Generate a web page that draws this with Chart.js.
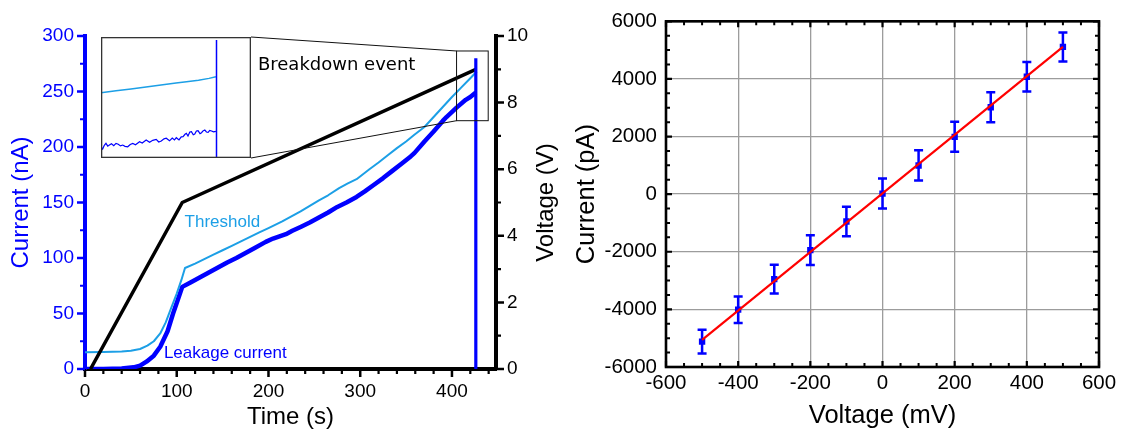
<!DOCTYPE html>
<html>
<head>
<meta charset="utf-8">
<script src="https://cdn.jsdelivr.net/npm/chart.js@4.4.0/dist/chart.umd.min.js"></script>
<style>
  body { margin: 0; background: #fff; }
  #wrap { position: relative; width: 1122px; height: 429px; }
  canvas { position: absolute; }
</style>
</head>
<body>
<div id="wrap">
  <canvas id="left" width="560" height="429" style="left:0;top:0"></canvas>
  <canvas id="inset" width="150" height="121" style="left:101px;top:37px"></canvas>
  <canvas id="right" width="562" height="429" style="left:560px;top:0"></canvas>
</div>
<script>
"use strict";

/* ---- left panel: breakdown ramp ---- */
const voltTime  = [6, 106, 426];
const voltValue = [0, 5, 9];

const threshTime    = [0, 20, 40, 50, 60, 68, 75, 82, 88, 94, 100, 105, 109, 120, 130, 140, 150, 160, 170, 180, 190, 200, 215, 225, 235, 245, 255, 265, 277, 286, 296, 310, 320, 330, 340, 350, 359, 370, 380, 390, 400, 410, 420, 427];
const threshCurrent = [15, 15.3, 15.8, 16.5, 18, 21, 25, 32, 42, 55, 68, 80, 91, 95, 99, 103, 107, 111, 115, 119, 123, 127, 133, 137.5, 142, 147, 152, 156.5, 163, 167, 171, 180, 186, 192.5, 199, 205, 211, 218, 227, 236, 245, 253.5, 262, 268];

const leakTime    = [0, 20, 40, 53, 60, 67, 75, 82, 90, 96, 101, 106, 115, 125, 135, 145, 155, 165, 175, 185, 197, 205, 212, 219, 226, 235, 245, 255, 265, 275, 285, 296, 305, 315, 325, 335, 345, 355, 359, 370, 380, 390, 394, 405, 415, 420, 426];
const leakCurrent = [0, 0, 0.4, 1.5, 3, 6.6, 12, 20, 34, 50, 62, 74, 78, 82.5, 87, 91.5, 96, 100, 104.5, 109, 114.5, 117.5, 119.5, 121.5, 124.5, 128, 132, 136.5, 141, 146, 150, 155, 160, 166, 172, 178.5, 185, 191.5, 194.5, 205, 214, 223.5, 227, 235.5, 242.5, 245, 249];

const spikeTime    = [426, 426];
const spikeCurrent = [0, 280];

const zoomTime    = [405, 439.5];
const zoomCurrent = [223.7, 286.5];

const timeTicks         = [0, 100, 200, 300, 400];
const timeTicksMinor    = [20, 40, 60, 80, 120, 140, 160, 180, 220, 240, 260, 280, 320, 340, 360, 380, 420, 440];
const currentTicks      = [0, 50, 100, 150, 200, 250, 300];
const currentTicksMinor = [25, 75, 125, 175, 225, 275];
const voltTicks         = [0, 2, 4, 6, 8, 10];
const voltTicksMinor    = [1, 3, 5, 7, 9];

/* inset (arbitrary zoomed units, 0..100 both ways) */
const insetThreshX = [0, 10, 20, 30, 40, 50, 57, 65, 72, 76.6];
const insetThreshY = [54, 55.5, 57, 58.7, 60.3, 62, 63, 64.3, 65.8, 67.2];
const insetLeakX = [0, 1.1, 2.2, 3.3, 4.5, 5.6, 7, 8.5, 10, 11.5, 13, 14.5, 16, 17.8, 19.5, 21.2, 23, 25.7, 27.5, 30.1, 32.4, 34.5, 36.8, 38.5, 40.2, 42, 43.5, 45.7, 47.5, 49, 50.2, 52, 53.5, 54.7, 56, 56.9, 58, 59.2, 60.3, 61.5, 62.5, 63.6, 64.7, 66, 67, 68, 69.2, 70.3, 71.4, 72.5, 73.7, 75, 76.6];
const insetLeakY = [9.3, 7.4, 10.5, 12.1, 9.8, 10.7, 11.8, 10.2, 12.1, 11.4, 10, 10.7, 9.6, 9.3, 11.2, 12.1, 11, 13.5, 12.4, 14.9, 13, 14.6, 15.4, 13.2, 14, 15.8, 16.3, 14.2, 16.5, 15, 16.8, 14.9, 17.5, 17.6, 19.6, 20.4, 18.2, 21.5, 21.7, 19.2, 19.8, 22.3, 22.6, 20.1, 20.9, 22.4, 23.1, 21.5, 21.2, 22.8, 22.3, 21.6, 22];
const insetSpikeX = [77, 77];
const insetSpikeY = [0, 97.5];

/* ---- right panel: I-V sweep ---- */
const ivVoltage = [-500, -400, -300, -200, -100, 0, 100, 200, 300, 400, 500];
const ivCurrent = [-5120, -4010, -2950, -1945, -950, 20, 995, 1990, 3015, 4075, 5110];
const ivError   = [410, 460, 500, 515, 515, 520, 525, 520, 520, 515, 505];
const fitVoltage = [-500, 500];
const fitCurrent = [-5060, 5110];

const vTicksMinor = [-550, -500, -450, -350, -300, -250, -150, -100, -50, 50, 100, 150, 250, 300, 350, 450, 500, 550];
const iTicksMinor = [-5500, -5000, -4500, -3500, -3000, -2500, -1500, -1000, -500, 500, 1000, 1500, 2500, 3000, 3500, 4500, 5000, 5500];

const INSET = { left: 101, top: 37, width: 150, height: 121 };

const BLUE = "#0000ff";
const LIGHT = "#1c9fe6";
const FONT = "'Liberation Sans', Arial, sans-serif";

Chart.defaults.font.family = FONT;
Chart.defaults.color = "#000";

const pts = (xs, ys) => xs.map((x, i) => ({ x, y: ys[i] }));

function marks(ctx, scale, values, len, width, color, side) {
  const a = scale.chart.chartArea;
  ctx.save();
  ctx.strokeStyle = color;
  ctx.lineWidth = width;
  ctx.lineCap = "butt";
  ctx.beginPath();
  values.forEach(v => {
    const p = scale.getPixelForValue(v);
    if (side === "down")     { ctx.moveTo(p, a.bottom); ctx.lineTo(p, a.bottom + len); }
    if (side === "up")       { ctx.moveTo(p, a.bottom); ctx.lineTo(p, a.bottom - len); }
    if (side === "topin")    { ctx.moveTo(p, a.top);    ctx.lineTo(p, a.top + len); }
    if (side === "leftout")  { ctx.moveTo(a.left, p);   ctx.lineTo(a.left - len, p); }
    if (side === "leftin")   { ctx.moveTo(a.left, p);   ctx.lineTo(a.left + len, p); }
    if (side === "rightout") { ctx.moveTo(a.right, p);  ctx.lineTo(a.right + len, p); }
    if (side === "rightin")  { ctx.moveTo(a.right, p);  ctx.lineTo(a.right - len, p); }
  });
  ctx.stroke();
  ctx.restore();
}

const fixTicks = list => s => { s.ticks = list.map(v => ({ value: v })); };

/* left chart extras: ticks, zoom box, connectors, annotations */
const leftExtras = {
  id: "leftExtras",
  afterDatasetsDraw(chart) {
    const { ctx, scales: { x, y } } = chart;
    const bx0 = x.getPixelForValue(zoomTime[0]), bx1 = x.getPixelForValue(zoomTime[1]);
    const by0 = y.getPixelForValue(zoomCurrent[1]), by1 = y.getPixelForValue(zoomCurrent[0]);
    ctx.save();
    ctx.strokeStyle = "#111";
    ctx.lineWidth = 1;
    ctx.strokeRect(bx0, by0, bx1 - bx0, by1 - by0);
    ctx.beginPath();
    ctx.moveTo(INSET.left + INSET.width, INSET.top);
    ctx.lineTo(bx0, by0);
    ctx.moveTo(INSET.left + INSET.width, INSET.top + INSET.height);
    ctx.lineTo(bx0, by1);
    ctx.stroke();

    ctx.textBaseline = "middle";
    ctx.textAlign = "left";
    ctx.font = "18px 'DejaVu Sans', Verdana, sans-serif";
    ctx.fillStyle = "#000";
    ctx.fillText("Breakdown event", x.getPixelForValue(188.5), y.getPixelForValue(274));
    ctx.font = "17px " + FONT;
    ctx.fillStyle = LIGHT;
    ctx.fillText("Threshold", x.getPixelForValue(108.5), y.getPixelForValue(132.5));
    ctx.fillStyle = BLUE;
    ctx.fillText("Leakage current", x.getPixelForValue(86), y.getPixelForValue(14.5));
    ctx.restore();
  },
  afterDraw(chart) {
    const { ctx, chartArea: a, scales } = chart;
    marks(ctx, scales.x, timeTicks, 8, 2.5, "#000", "down");
    marks(ctx, scales.x, timeTicksMinor, 5, 2.2, "#000", "down");
    marks(ctx, scales.y, currentTicks, 8, 2.5, BLUE, "leftout");
    marks(ctx, scales.y, currentTicksMinor, 5, 2.2, BLUE, "leftout");
    marks(ctx, scales.y2, voltTicks, 8, 2.5, "#000", "rightout");
    marks(ctx, scales.y2, voltTicksMinor, 5, 2.2, "#000", "rightout");
    // right axis title reads bottom-to-top like the left one
    ctx.save();
    ctx.translate(546, (a.top + a.bottom) / 2);
    ctx.rotate(-Math.PI / 2);
    ctx.textAlign = "center";
    ctx.textBaseline = "middle";
    ctx.font = "24px " + FONT;
    ctx.fillStyle = "#000";
    ctx.fillText("Voltage (V)", 0, 0);
    ctx.restore();
  },
};

const noGrid = { display: false, drawTicks: false };

new Chart(document.getElementById("left"), {
  type: "line",
  data: {
    datasets: [
      { data: pts(spikeTime, spikeCurrent), borderColor: BLUE, borderWidth: 3.2, yAxisID: "y" },
      { data: pts(voltTime, voltValue), borderColor: "#000", borderWidth: 3.5, yAxisID: "y2" },
      { data: pts(threshTime, threshCurrent), borderColor: LIGHT, borderWidth: 2, yAxisID: "y" },
      { data: pts(leakTime, leakCurrent), borderColor: BLUE, borderWidth: 4.5, yAxisID: "y" },
    ],
  },
  options: {
    responsive: false,
    animation: false,
    parsing: false,
    layout: { padding: { top: 36, left: 0, right: 0, bottom: 0 } },
    elements: { point: { radius: 0 }, line: { tension: 0, borderCapStyle: "butt", borderJoinStyle: "round" } },
    plugins: { legend: { display: false }, tooltip: { enabled: false } },
    scales: {
      x: {
        type: "linear", min: 0, max: 448,
        ticks: { font: { size: 19 }, color: "#000", padding: 11, maxRotation: 0 },
        afterBuildTicks: fixTicks(timeTicks),
        afterFit: s => { s.height = 60; },
        grid: noGrid,
        border: { color: "#000", width: 4 },
        title: { display: true, text: "Time (s)", font: { size: 24, lineHeight: 1 }, color: "#000", padding: { top: 0, bottom: 0 } },
      },
      y: {
        position: "left", min: 0, max: 300,
        ticks: { font: { size: 19 }, color: BLUE, padding: 11 },
        afterBuildTicks: fixTicks(currentTicks),
        afterFit: s => { s.width = 85; },
        grid: noGrid,
        border: { color: BLUE, width: 4 },
        title: { display: true, text: "Current (nA)", font: { size: 24 }, color: BLUE, padding: { top: 7, bottom: 0 } },
      },
      y2: {
        position: "right", min: 0, max: 10,
        ticks: { font: { size: 19 }, color: "#000", padding: 11 },
        afterBuildTicks: fixTicks(voltTicks),
        afterFit: s => { s.width = 64; },
        grid: noGrid,
        border: { color: "#000", width: 4 },
      },
    },
  },
  plugins: [leftExtras],
});

/* inset: zoomed view of the breakdown */
const insetFrame = {
  id: "insetFrame",
  beforeDraw(chart) {
    const { ctx, width, height } = chart;
    ctx.save();
    ctx.fillStyle = "#fff";
    ctx.fillRect(0, 0, width, height);
    ctx.restore();
  },
  afterDraw(chart) {
    const { ctx, width, height } = chart;
    ctx.save();
    ctx.strokeStyle = "#333";
    ctx.lineWidth = 1.3;
    ctx.strokeRect(0.65, 0.65, width - 1.3, height - 1.3);
    ctx.restore();
  },
};

new Chart(document.getElementById("inset"), {
  type: "line",
  data: {
    datasets: [
      { data: pts(insetSpikeX, insetSpikeY), borderColor: BLUE, borderWidth: 1.5 },
      { data: pts(insetThreshX, insetThreshY), borderColor: LIGHT, borderWidth: 1.5 },
      { data: pts(insetLeakX, insetLeakY), borderColor: BLUE, borderWidth: 1.2 },
    ],
  },
  options: {
    responsive: false,
    animation: false,
    parsing: false,
    layout: { padding: 0 },
    elements: { point: { radius: 0 }, line: { tension: 0 } },
    plugins: { legend: { display: false }, tooltip: { enabled: false } },
    scales: {
      x: { type: "linear", min: 0, max: 100, display: false },
      y: { min: 0, max: 100, display: false },
    },
  },
  plugins: [insetFrame],
});

/* right chart extras: error bars, frame, inward ticks */
const rightExtras = {
  id: "rightExtras",
  beforeDatasetsDraw(chart) {
    const { ctx, scales: { x, y } } = chart;
    ctx.save();
    ctx.strokeStyle = BLUE;
    ctx.lineWidth = 2.5;
    ctx.beginPath();
    ivVoltage.forEach((v, i) => {
      const px = x.getPixelForValue(v);
      const top = y.getPixelForValue(ivCurrent[i] + ivError[i]);
      const bot = y.getPixelForValue(ivCurrent[i] - ivError[i]);
      ctx.moveTo(px, top); ctx.lineTo(px, bot);
      ctx.moveTo(px - 4.5, top); ctx.lineTo(px + 4.5, top);
      ctx.moveTo(px - 4.5, bot); ctx.lineTo(px + 4.5, bot);
    });
    ctx.stroke();
    ctx.restore();
  },
  afterDraw(chart) {
    const { ctx, chartArea: a, scales: { x, y } } = chart;
    const xMajor = x.ticks.map(t => t.value);
    const yMajor = y.ticks.map(t => t.value);
    marks(ctx, x, xMajor, 6, 2.2, "#000", "up");
    marks(ctx, x, xMajor, 6, 2.2, "#000", "topin");
    marks(ctx, y, yMajor, 6, 2.2, "#000", "leftin");
    marks(ctx, y, yMajor, 6, 2.2, "#000", "rightin");
    marks(ctx, x, vTicksMinor, 4, 2, "#000", "up");
    marks(ctx, x, vTicksMinor, 4, 2, "#000", "topin");
    marks(ctx, y, iTicksMinor, 4, 2, "#000", "leftin");
    marks(ctx, y, iTicksMinor, 4, 2, "#000", "rightin");
    ctx.save();
    ctx.strokeStyle = "#000";
    ctx.lineWidth = 2.6;
    ctx.strokeRect(a.left, a.top, a.right - a.left, a.bottom - a.top);
    ctx.restore();
  },
};

new Chart(document.getElementById("right"), {
  type: "scatter",
  data: {
    datasets: [
      { type: "line", data: pts(fitVoltage, fitCurrent), borderColor: "#ff0000", borderWidth: 2.2, pointRadius: 0 },
      { data: pts(ivVoltage, ivCurrent), backgroundColor: BLUE, borderColor: BLUE, borderWidth: 0, pointStyle: "rect", pointRadius: 4.5 },
    ],
  },
  options: {
    responsive: false,
    animation: false,
    parsing: false,
    layout: { padding: { top: 17, right: 23, left: 0, bottom: 0 } },
    plugins: { legend: { display: false }, tooltip: { enabled: false } },
    scales: {
      x: {
        type: "linear", min: -600, max: 600,
        ticks: { stepSize: 200, font: { size: 20.5 }, color: "#000", padding: 4, maxRotation: 0, callback: v => String(v) },
        afterFit: s => { s.height = 62; },
        grid: { color: "#9c9c9c", lineWidth: 1.3, drawTicks: false },
        border: { display: false },
        title: { display: true, text: "Voltage (mV)", font: { size: 25.5, lineHeight: 1 }, color: "#000", padding: { top: 0, bottom: 0 } },
      },
      y: {
        min: -6000, max: 6000,
        ticks: { stepSize: 2000, font: { size: 20.5 }, color: "#000", padding: 9, callback: v => String(v) },
        afterFit: s => { s.width = 106; },
        grid: { color: "#9c9c9c", lineWidth: 1.3, drawTicks: false },
        border: { display: false },
        title: { display: true, text: "Current (pA)", font: { size: 25.5 }, color: "#000", padding: { top: 12, bottom: 0 } },
      },
    },
  },
  plugins: [rightExtras],
});
</script>
</body>
</html>
